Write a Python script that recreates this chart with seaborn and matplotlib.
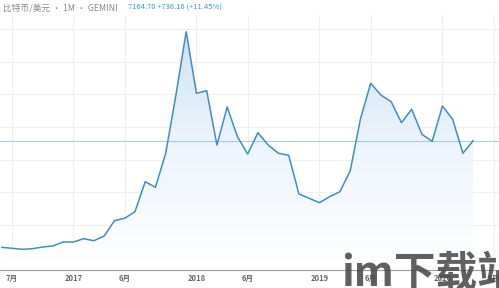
import numpy as np
import pandas as pd
import matplotlib
matplotlib.use("Agg")
import matplotlib.pyplot as plt
from matplotlib.patches import Polygon
from matplotlib.colors import LinearSegmentedColormap
import seaborn as sns

# monthly closes, Jun 2016 .. Apr 2020
months = pd.date_range("2016-06-01", "2020-04-01", freq="MS").strftime("%Y-%m").tolist()
prices = [614, 553, 491, 528, 632, 700, 939, 939, 1142, 1019, 1308, 2247,
          2395, 2800, 4642, 4298, 6386, 9965, 13852,
          10070, 10229, 6895, 9228, 7405, 6343, 7650, 6895, 6386, 6263, 3887, 3623,
          3352, 3721, 4028, 5299, 8492, 10684, 9965, 9554, 8264, 9087, 7552, 7122,
          9290, 8473, 6386, 7164.70]
tick_months = ["2016-07", "2017-01", "2017-06", "2018-01", "2018-06",
               "2019-01", "2019-06", "2020-01", "2020-06"]
tick_labels = ["7月", "2017", "6月", "2018", "6月", "2019", "6月", "2020", "6月"]
last_price = 7164.70
title = "比特币/美元 · 1M · GEMINI"
quote = "7164.70 +736.16 (+11.45%)"

sns.set_theme(style="white")
plt.rcParams["font.family"] = ["Noto Sans CJK SC", "DejaVu Sans"]

all_months = pd.date_range("2016-06-01", "2020-06-01", freq="MS").strftime("%Y-%m").tolist()
idx = {m: i for i, m in enumerate(all_months)}
df = pd.DataFrame({"i": [idx[m] for m in months], "price": prices})

fig = plt.figure(figsize=(4.99, 2.88), dpi=100)
ax = fig.add_axes([0, 18 / 288, 1, (270 - 15) / 288])

ymin, ymax = -780, 14877
xmin, xmax = -0.166, 48.52
ax.set_xlim(xmin, xmax)
ax.set_ylim(ymin, ymax)

# grid
for v in range(0, 16000, 2000):
    ax.axhline(v, color="#efefef", lw=0.8, zorder=0)
for m in tick_months:
    ax.axvline(idx[m], color="#efefef", lw=0.8, zorder=0)

# gradient fill under the line
cmap = LinearSegmentedColormap.from_list("g", ["#ffffff", "#eef5fc", "#cde3f6"])
grad = np.linspace(0, 1, 256).reshape(-1, 1)
im = ax.imshow(grad, cmap=cmap, aspect="auto", origin="lower",
               extent=[xmin, xmax, ymin, 14000], zorder=1)
poly_pts = list(zip(df["i"], df["price"])) + [(df["i"].iloc[-1], ymin), (df["i"].iloc[0], ymin)]
poly = Polygon(poly_pts, closed=True, facecolor="none", edgecolor="none")
ax.add_patch(poly)
im.set_clip_path(poly)

sns.lineplot(data=df, x="i", y="price", ax=ax, color="#3f8dc4", lw=1.1, zorder=3)

ax.axhline(last_price, color="#a6cbe4", lw=0.8, zorder=2)

ax.set_xticks([idx[m] for m in tick_months])
ax.set_xticklabels(tick_labels, fontsize=5.5, color="#666666", fontweight="bold")
ax.set_yticks([])
ax.tick_params(axis="x", length=0, pad=3)
ax.set_xlabel("")
ax.set_ylabel("")
for s in ["top", "left", "right"]:
    ax.spines[s].set_visible(False)
ax.spines["bottom"].set_color("#9a9a9a")
ax.spines["bottom"].set_linewidth(0.8)

fig.text(3 / 499, 1 - 8 / 288, title, fontsize=6.3, color="#8a8a8a", va="center", ha="left")
fig.text(128 / 499, 1 - 8 / 288, quote, fontsize=5.5, color="#3a9cc4", va="center", ha="left")

# watermark
fig.text(341 / 499, 2 / 288, "im下载站", fontsize=30, fontweight="bold",
         color="#444444", alpha=0.85, va="baseline", ha="left")

fig.savefig("out.png", dpi=100)
